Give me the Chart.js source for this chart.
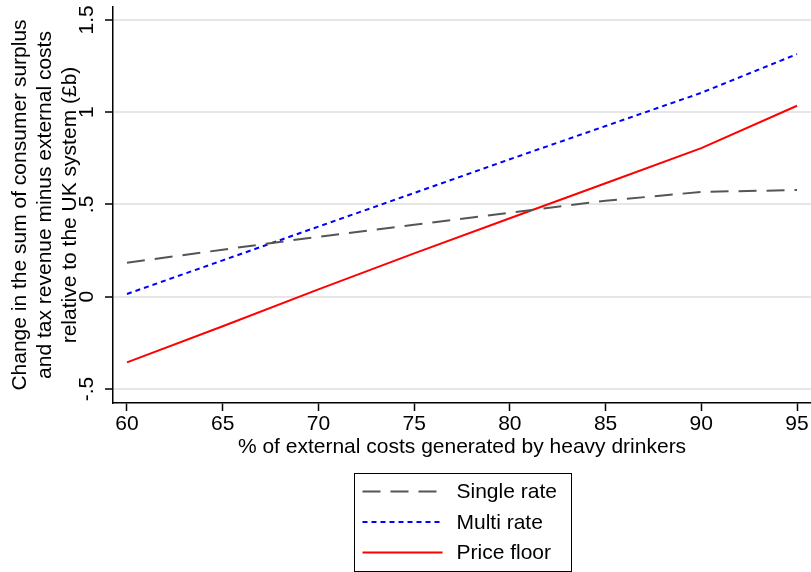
<!DOCTYPE html>
<html><head><meta charset="utf-8">
<script src="https://cdn.jsdelivr.net/npm/chart.js@4"></script>
<style>html,body{margin:0;padding:0;background:#fff}</style>
</head><body>
<canvas id="c" width="811" height="572"></canvas>
<script>
// ---- data ----
const xValues = [60, 65, 70, 75, 80, 85, 90, 95];
const singleRate = [0.184, 0.255, 0.325, 0.39, 0.455, 0.52, 0.568, 0.578];
const multiRate = [0.015, 0.197, 0.38, 0.562, 0.745, 0.925, 1.105, 1.315];
const priceFloor = [-0.356, -0.16, 0.04, 0.235, 0.425, 0.615, 0.805, 1.035];
const seriesNames = ['Single rate', 'Multi rate', 'Price floor'];
const xTicks = [60, 65, 70, 75, 80, 85, 90, 95];
const yTicks = [-0.5, 0, 0.5, 1, 1.5];
const yTickLabels = ['-.5', '0', '.5', '1', '1.5'];
const xTitle = '% of external costs generated by heavy drinkers';
const yTitle = ['Change in the sum of consumer surplus', 'and tax revenue minus external costs', 'relative to the UK system (£b)'];

const FONT = "'Liberation Sans', Arial, sans-serif";
const FS = 21;
const toPts = ys => xValues.map((x, i) => ({x, y: ys[i]}));

const boxLegend = {
  id: 'boxLegend',
  afterDraw(chart) {
    const ctx = chart.ctx;
    const ca = chart.chartArea;
    const xs = chart.scales.x;
    const ds = chart.data.datasets;
    ctx.save();
    ctx.font = FS + 'px ' + FONT;
    let maxW = 0;
    ds.forEach(d => { maxW = Math.max(maxW, ctx.measureText(d.label).width); });
    const padL = 8, sample = 80, gap = 14, padR = 15, rowH = 30.5;
    const w = Math.round(padL + sample + gap + maxW + padR);
    const h = 98;
    const cx = (ca.left + ca.right) / 2;
    const left = Math.round(cx - w / 2) + 0.5;
    const top = xs.bottom + 10.5;
    ctx.strokeStyle = '#000';
    ctx.lineWidth = 1;
    ctx.setLineDash([]);
    ctx.strokeRect(left, top, w, h);
    ds.forEach((d, i) => {
      const y = top + 18 + i * rowH;
      ctx.beginPath();
      ctx.strokeStyle = d.borderColor;
      ctx.lineWidth = d.borderWidth;
      ctx.setLineDash(d.borderDash || []);
      ctx.moveTo(left + padL, y);
      ctx.lineTo(left + padL + sample, y);
      ctx.stroke();
      ctx.setLineDash([]);
      ctx.fillStyle = '#000';
      ctx.textBaseline = 'middle';
      ctx.textAlign = 'left';
      ctx.fillText(d.label, left + padL + sample + gap, y + 1);
    });
    ctx.restore();
  }
};

new Chart(document.getElementById('c'), {
  type: 'line',
  data: {
    datasets: [
      {label: seriesNames[0], data: toPts(singleRate), borderColor: '#555555', borderWidth: 2, borderDash: [18, 10], pointRadius: 0, tension: 0, fill: false},
      {label: seriesNames[1], data: toPts(multiRate), borderColor: '#0000ff', borderWidth: 2, borderDash: [5, 4], pointRadius: 0, tension: 0, fill: false},
      {label: seriesNames[2], data: toPts(priceFloor), borderColor: '#ff0000', borderWidth: 2, pointRadius: 0, tension: 0, fill: false}
    ]
  },
  options: {
    responsive: false,
    animation: false,
    devicePixelRatio: 1,
    layout: {padding: {top: 7, right: 0, bottom: 109, left: 0}},
    plugins: {legend: {display: false}, tooltip: {enabled: false}},
    scales: {
      x: {
        type: 'linear', min: 59.27, max: 95.73,
        afterBuildTicks: s => { s.ticks = xTicks.map(v => ({value: v})); },
        afterFit: s => { s.height = 60; },
        ticks: {font: {family: FONT, size: FS}, color: '#000', padding: 1, maxRotation: 0, callback: v => String(v)},
        grid: {display: true, drawOnChartArea: false, tickLength: 8, tickColor: '#000', tickWidth: 1.5},
        border: {display: true, color: '#000', width: 1.5},
        title: {display: true, text: xTitle, font: {family: FONT, size: FS}, color: '#000', padding: {top: 0, bottom: 3}}
      },
      y: {
        type: 'linear', min: -0.576, max: 1.57,
        afterBuildTicks: s => { s.ticks = yTicks.map(v => ({value: v})); },
        afterFit: s => { s.width = 113; s.paddingTop = 0; s.paddingBottom = 0; },
        ticks: {font: {family: FONT, size: FS}, color: '#000', padding: 3, minRotation: 90, maxRotation: 90, crossAlign: 'center',
          callback: v => { const i = yTicks.indexOf(v); return i >= 0 ? yTickLabels[i] : ''; }},
        grid: {display: true, color: '#e6e6e6', lineWidth: 2, tickLength: 8, tickColor: '#000', tickWidth: 1.5},
        border: {display: true, color: '#000', width: 1.5},
        title: {display: true, text: yTitle, font: {family: FONT, size: FS, lineHeight: 1.19}, color: '#000', padding: {top: 8, bottom: 0}}
      }
    }
  },
  plugins: [boxLegend]
});
</script>
</body></html>
